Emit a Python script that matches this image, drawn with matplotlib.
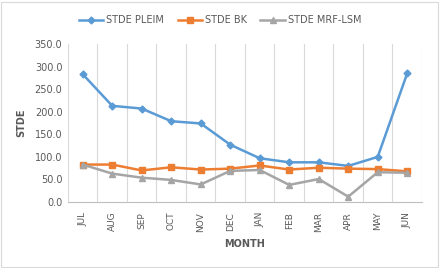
import matplotlib
matplotlib.use("Agg")
import matplotlib.pyplot as plt
from matplotlib.patches import Rectangle

months = ["JUL", "AUG", "SEP", "OCT", "NOV", "DEC", "JAN", "FEB", "MAR", "APR", "MAY", "JUN"]
stde_pleim = [283, 213, 207, 179, 174, 127, 97, 88, 88, 80, 100, 285]
stde_bk = [83, 83, 70, 77, 72, 74, 81, 72, 76, 74, 73, 68]
stde_mrf = [83, 63, 54, 49, 39, 69, 71, 38, 51, 12, 66, 65]

txt = "#595959"
fig = plt.figure(figsize=(4.4, 2.68), dpi=100)
fig.patches.append(Rectangle((0.002, 0.004), 0.994, 0.99, transform=fig.transFigure,
                             fill=False, edgecolor="#D9D9D9", linewidth=0.8))
ax = fig.add_axes([0.1545, 0.246, 0.8045, 0.59])

x = list(range(len(months)))
ax.plot(x, stde_pleim, color="#5B9BD5", marker="D", markersize=3.5, linewidth=1.8, label="STDE PLEIM")
ax.plot(x, stde_bk, color="#ED7D31", marker="s", markersize=4.5, linewidth=1.8, label="STDE BK")
ax.plot(x, stde_mrf, color="#A5A5A5", marker="^", markersize=4.5, linewidth=1.8, label="STDE MRF-LSM")

ax.set_xlim(-0.5, len(months) - 0.5)
ax.set_ylim(0, 350)
ax.set_yticks(range(0, 351, 50))
ax.set_yticklabels([f"{v:.1f}" for v in range(0, 351, 50)], fontsize=7, color=txt)
ax.set_xticks(x)
ax.set_xticklabels(months, rotation=90, fontsize=6.5, color=txt)
for i in range(len(months) + 1):
    ax.axvline(i - 0.5, color="#D9D9D9", linewidth=0.8, zorder=0)
ax.tick_params(axis="y", length=0, pad=4)
ax.tick_params(axis="x", length=0, pad=7)
for s in ["top", "left", "right"]:
    ax.spines[s].set_visible(False)
ax.spines["bottom"].set_color("#BFBFBF")

ax.set_ylabel("STDE", fontsize=7, fontweight="bold", color=txt, labelpad=6)
ax.set_xlabel("MONTH", fontsize=7, fontweight="bold", color=txt, labelpad=5)

fig.legend(loc="upper center", bbox_to_anchor=(0.5, 0.975), ncol=3, frameon=False,
           fontsize=7, labelcolor=txt, handlelength=2.5, columnspacing=1.4, handletextpad=0.3)

fig.savefig("out.png", dpi=100)
